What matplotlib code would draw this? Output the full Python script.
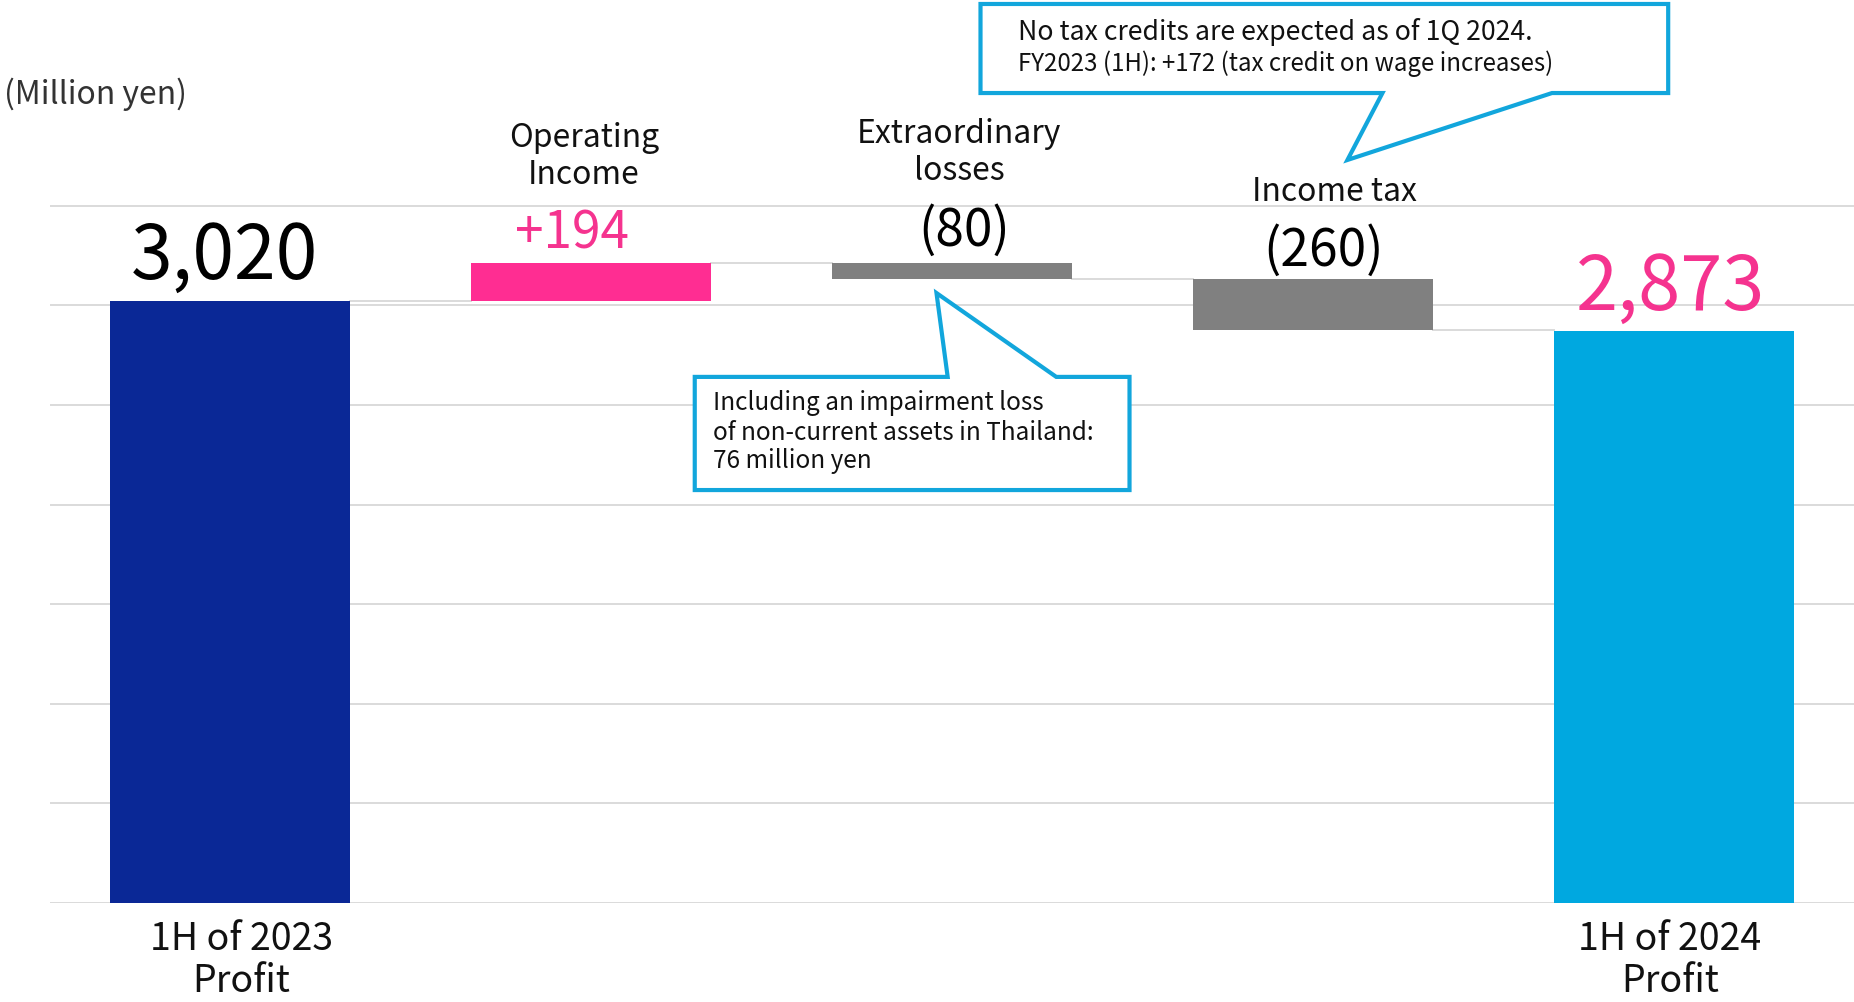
import matplotlib
matplotlib.use("Agg")
import matplotlib.pyplot as plt
from matplotlib.patches import Polygon

plt.rcParams['font.family'] = ['Noto Sans CJK JP', 'DejaVu Sans']

# ---------------- data ----------------
categories = ["1H of 2023\nProfit", "Operating\nIncome", "Extraordinary\nlosses", "Income tax", "1H of 2024\nProfit"]
start_value = 3020
changes = [194, -80, -260]
end_value = 2873
value_labels = ["3,020", "+194", "(80)", "(260)", "2,873"]
grid_ticks = [0, 500, 1000, 1500, 2000, 2500, 3000, 3500]
unit_label = "(Million yen)"
note_losses = ["Including an impairment loss", "of non-current assets in Thailand:", "76 million yen"]
note_tax = ["No tax credits are expected as of 1Q 2024.", "FY2023 (1H): +172 (tax credit on wage increases)"]

# ---------------- styles ----------------
NAVY = "#0A2896"
LIGHTBLUE = "#00A8E0"
PINK = "#FF2D92"
PINK_TXT = "#F5338F"
GREY = "#808080"
CALLOUT = "#12A6DC"
GRID = "#DADADA"

fig = plt.figure(figsize=(18.54, 10.02), dpi=100)
ax = fig.add_axes([50/1854, 99/1002, 1804/1854, 903/1002])
ax.set_xlim(-0.5, 4.5)
ax.set_ylim(0, 4533)
for s in ax.spines.values():
    s.set_visible(False)
ax.set_xticks([])
ax.set_yticks(grid_ticks)
ax.tick_params(axis='y', length=0, labelleft=False)
ax.yaxis.grid(True, color=GRID, linewidth=1.4)
ax.set_axisbelow(True)

width = 0.665
xs = list(range(len(categories)))

# waterfall geometry
bottoms, heights, colors = [0], [start_value], [NAVY]
running = start_value
levels = [start_value]
for d in changes:
    bottoms.append(min(running, running + d))
    heights.append(abs(d))
    colors.append(PINK if d > 0 else GREY)
    running += d
    levels.append(running)
bottoms.append(0)
heights.append(end_value)
colors.append(LIGHTBLUE)

ax.bar(xs, heights, bottom=bottoms, width=width, color=colors, zorder=3)

# connectors
for i in range(len(levels)):
    ax.plot([xs[i] + width/2, xs[i+1] - width/2], [levels[i], levels[i]],
            color=GRID, linewidth=1.4, zorder=2)

# value labels
tops = [b + h for b, h in zip(bottoms, heights)]
label_colors = ["black", PINK_TXT, "black", "black", PINK_TXT]
label_sizes = [54, 37, 37, 37, 54.5]
label_offsets = [(-4, 16), (-14, 10), (9, 12), (8, 9), (-2, 15)]
for i in range(len(xs)):
    ax.annotate(value_labels[i], (xs[i], tops[i]), xytext=label_offsets[i],
                textcoords='offset points', ha='center', va='baseline',
                fontsize=label_sizes[i], color=label_colors[i], zorder=5)

# category labels (middle, above bars)
mid_label_pos = [(1 - 0.02, 3745), (2 + 0.02, 3765), (3 + 0.06, 3570)]
for (xx, yy), cat in zip(mid_label_pos, categories[1:4]):
    ax.text(xx, yy, cat, ha='center', va='center', fontsize=23, linespacing=1.2,
            color="#111111", zorder=5)

# bottom labels
for i, dx in ((0, 0.03), (4, -0.01)):
    ax.text(xs[i] + dx, -290, categories[i], ha='center', va='center',
            fontsize=27, linespacing=1.1, color="#111111", clip_on=False)

# unit label
ax.text(-0.627, 4060, unit_label, ha='left', va='center', fontsize=23,
        color="#333333", clip_on=False)

# callout: extraordinary losses
poly1 = [(1.287, 2641), (1.988, 2641), (1.957, 3062), (2.289, 2641),
         (2.492, 2641), (2.492, 2073), (1.287, 2073)]
ax.add_patch(Polygon(poly1, closed=True, facecolor='white', edgecolor=CALLOUT,
                     linewidth=3, zorder=6, clip_on=False))
for yy, line in zip([2510, 2359, 2219], note_losses):
    ax.text(1.337, yy, line, ha='left', va='center', fontsize=17.5,
            color="#111111", zorder=7)

# callout: income tax
poly2 = [(2.079, 4066), (3.193, 4066), (3.096, 3730), (3.663, 4066),
         (3.985, 4066), (3.985, 4513), (2.079, 4513)]
ax.add_patch(Polygon(poly2, closed=True, facecolor='white', edgecolor=CALLOUT,
                     linewidth=3, zorder=6, clip_on=False))
ax.text(2.184, 4372, note_tax[0], ha='left', va='center', fontsize=19.2,
        color="#111111", zorder=7)
ax.text(2.184, 4212, note_tax[1], ha='left', va='center', fontsize=17.3,
        color="#111111", zorder=7)

fig.savefig("out.png", dpi=100)
